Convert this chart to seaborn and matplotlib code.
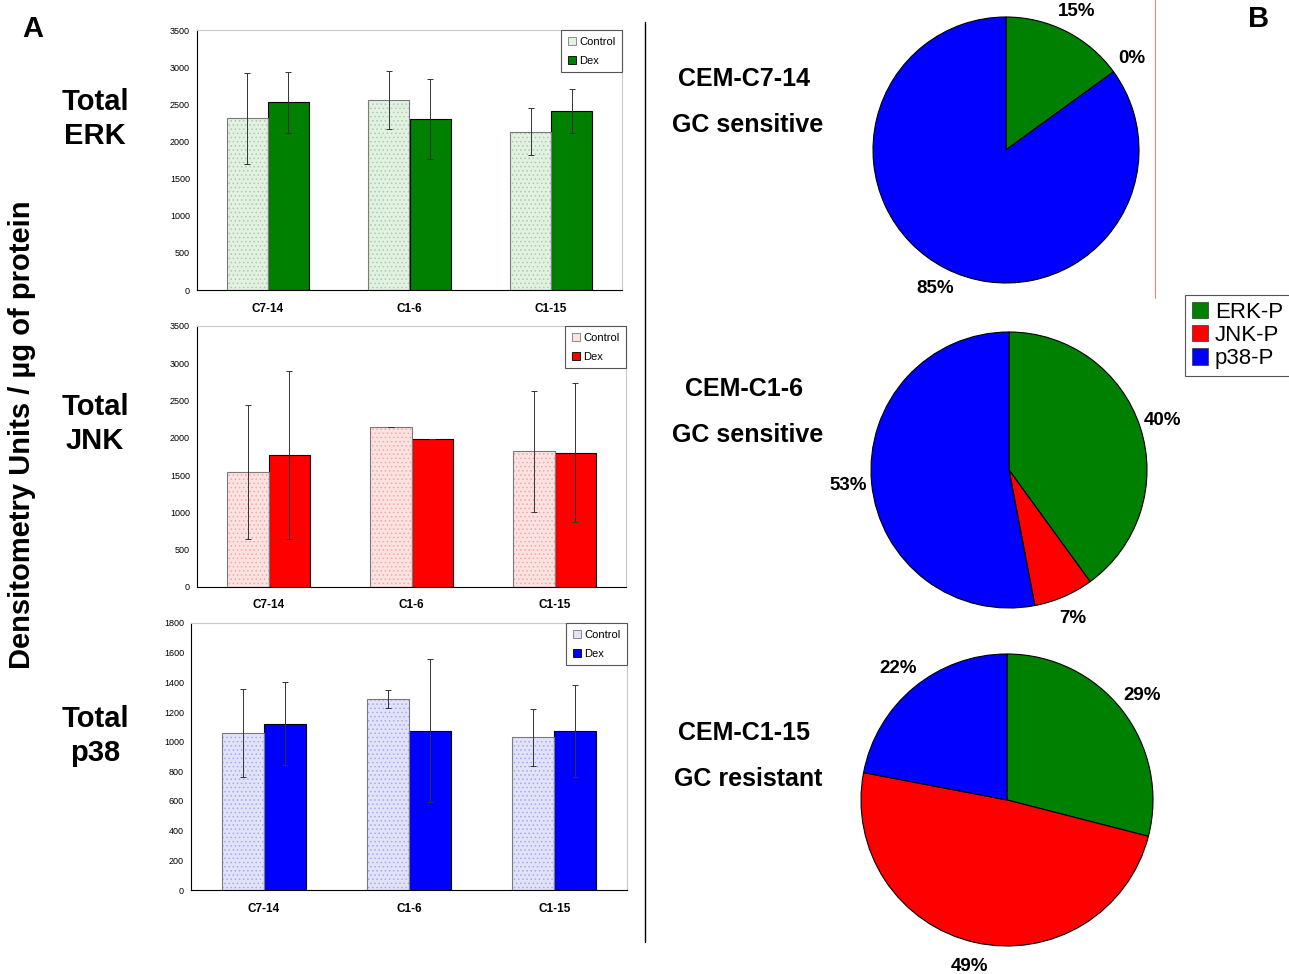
import matplotlib
matplotlib.use("Agg")
import numpy as np
import pandas as pd
import matplotlib.pyplot as plt
import seaborn as sns
from matplotlib.patches import Rectangle, Patch
from matplotlib.lines import Line2D

# bar chart data (A)
cells = ["C7-14", "C1-6", "C1-15"]
groups = ["Control", "Dex"]

erk_control = [2310, 2560, 2130]
erk_dex = [2530, 2300, 2410]
erk_control_err = [610, 390, 315]
erk_dex_err = [410, 540, 300]

jnk_control = [1540, 2150, 1820]
jnk_dex = [1770, 1990, 1800]
jnk_control_err = [900, 0, 810]
jnk_dex_err = [1125, 0, 935]

p38_control = [1060, 1285, 1030]
p38_dex = [1120, 1075, 1075]
p38_control_err = [297, 60, 193]
p38_dex_err = [280, 480, 310]

# pie chart data (B)
kinases = ["ERK-P", "JNK-P", "p38-P"]
kinase_colors = ["#008000", "#ff0000", "#0000ff"]
pct_c7_14 = [15, 0, 85]
pct_c1_6 = [40, 7, 53]
pct_c1_15 = [29, 49, 22]

W, H = 1289, 974

sns.set_style("white")
plt.rcParams["font.family"] = ["Liberation Sans", "DejaVu Sans"]
plt.rcParams["text.color"] = "black"
plt.rcParams["xtick.color"] = "black"
plt.rcParams["ytick.color"] = "black"
plt.rcParams["hatch.linewidth"] = 0.6

fig = plt.figure(figsize=(W / 100, H / 100), dpi=100)


def box(x0, y0, x1, y1):
    return [x0 / W, 1 - y1 / H, (x1 - x0) / W, (y1 - y0) / H]


def pt(x, y):
    return (x / W, 1 - y / H)


def bar_panel(rect, control, dex, cerr, derr, ymax, ystep, light, dots, dark):
    ax = fig.add_axes(rect)
    df = pd.DataFrame({
        "cell": cells * 2,
        "group": ["Control"] * 3 + ["Dex"] * 3,
        "value": control + dex,
    })
    sns.barplot(
        data=df, x="cell", y="value", hue="group",
        order=cells, hue_order=groups,
        palette={"Control": light, "Dex": dark},
        saturation=1, width=0.58, errorbar=None,
        edgecolor="black", linewidth=0.8, ax=ax
    )
    if ax.get_legend() is not None:
        ax.get_legend().remove()

    # dotted texture on control bars, outline on top
    for p in ax.containers[0].patches:
        p.set_hatch("....")
        p.set_edgecolor(dots)
        p.set_linewidth(0)
        ax.add_patch(Rectangle(p.get_xy(), p.get_width(), p.get_height(),
                               fill=False, edgecolor="#7a7a7a", linewidth=0.8, zorder=3))

    for cont, err in zip(ax.containers, [cerr, derr]):
        xs = [p.get_x() + p.get_width() / 2 for p in cont.patches]
        ys = [p.get_height() for p in cont.patches]
        ax.errorbar(xs, ys, yerr=err, fmt="none", ecolor="#333333",
                    elinewidth=0.7, capsize=2, capthick=0.7, zorder=4)

    ax.set_xlim(-0.5, 2.5)
    ax.set_ylim(0, ymax)
    ax.set_yticks(np.arange(0, ymax + 1, ystep))
    ax.set_xticks([-0.5, 0.5, 1.5, 2.5], minor=True)
    ax.tick_params(axis="x", which="major", length=0, pad=9, labelsize=8.5)
    ax.tick_params(axis="x", which="minor", length=4, width=0.8, color="black", direction="out")
    ax.tick_params(axis="y", length=3, width=0.8, color="black", direction="out", labelsize=6.5, pad=2)
    for lab in ax.get_xticklabels():
        lab.set_fontweight("bold")
    ax.set_xlabel("")
    ax.set_ylabel("")
    for s in ["top", "right"]:
        ax.spines[s].set_color("#c8c8c8")
        ax.spines[s].set_linewidth(0.8)
    for s in ["left", "bottom"]:
        ax.spines[s].set_color("black")
        ax.spines[s].set_linewidth(0.8)

    handles = [Patch(facecolor=light, edgecolor="#7a7a7a", linewidth=0.6),
               Patch(facecolor=dark, edgecolor="black", linewidth=0.6)]
    leg = ax.legend(handles, groups, loc="upper right", borderaxespad=0,
                    fontsize=8, handlelength=0.7, handleheight=0.7,
                    handletextpad=0.3, labelspacing=0.8, borderpad=0.6,
                    fancybox=False, framealpha=1, edgecolor="#555555")
    leg.get_frame().set_linewidth(0.8)
    return ax


bar_panel(box(197, 30, 622, 290), erk_control, erk_dex, erk_control_err, erk_dex_err,
          3500, 500, "#e2f1e2", "#a8cda8", "#008000")
bar_panel(box(197, 326, 626, 587), jnk_control, jnk_dex, jnk_control_err, jnk_dex_err,
          3500, 500, "#fde2e2", "#f0a8a8", "#ff0000")
bar_panel(box(191, 623, 627, 890), p38_control, p38_dex, p38_control_err, p38_dex_err,
          1800, 200, "#e2e2fb", "#a8a8ee", "#0000ff")


def pie_panel(cx, cy, r, pcts):
    ax = fig.add_axes(box(cx - r, cy - r, cx + r, cy + r))
    wedges, texts, autotexts = ax.pie(
        pcts, colors=kinase_colors, startangle=90, counterclock=False,
        autopct=lambda p: f"{p:.0f}%", pctdistance=1.17,
        wedgeprops=dict(edgecolor="black", linewidth=0.8)
    )
    for t in autotexts:
        t.set_fontsize(13.5)
        t.set_fontweight("bold")
        t.set_color("black")
    ax.set_xlim(-1, 1)
    ax.set_ylim(-1, 1)
    ax.set_aspect("equal")
    ax.axis("off")


pie_panel(1006, 150, 133, pct_c7_14)
pie_panel(1009, 470, 138, pct_c1_6)
pie_panel(1007, 800, 146, pct_c1_15)

# labels
big = dict(fontsize=21, fontweight="bold", ha="center", va="center", color="black")
fig.text(*pt(33, 29), "A", **big)
fig.text(*pt(1259, 19), "B", **big)
fig.text(*pt(95, 119), "Total\nERK", linespacing=1.3, **big)
fig.text(*pt(95, 424), "Total\nJNK", linespacing=1.3, **big)
fig.text(*pt(95, 736), "Total\np38", linespacing=1.3, **big)
fig.text(*pt(22, 435), "Densitometry Units / µg of protein", rotation=90, **big)

mid = dict(fontsize=18, fontweight="bold", ha="center", va="center", color="black")
fig.text(*pt(744, 79), "CEM-C7-14", **mid)
fig.text(*pt(748, 125), "GC sensitive", **mid)
fig.text(*pt(744, 389), "CEM-C1-6", **mid)
fig.text(*pt(748, 435), "GC sensitive", **mid)
fig.text(*pt(744, 733), "CEM-C1-15", **mid)
fig.text(*pt(748, 779), "GC resistant", **mid)

# divider lines
fig.add_artist(Line2D([645 / W, 645 / W], [1 - 22 / H, 1 - 942 / H], color="black", linewidth=1))
fig.add_artist(Line2D([1155 / W, 1155 / W], [1, 1 - 298 / H], color="#f08080", linewidth=0.8))

pie_handles = [Patch(facecolor=c, edgecolor="#333333", linewidth=0.5) for c in kinase_colors]
leg = fig.legend(pie_handles, kinases, loc="upper left", bbox_to_anchor=pt(1185, 295),
                 borderaxespad=0, fontsize=16, handlelength=0.75, handleheight=0.75,
                 handletextpad=0.3, labelspacing=0.1, borderpad=0.3,
                 fancybox=False, framealpha=1, edgecolor="#555555")
leg.get_frame().set_linewidth(0.8)

plt.savefig("out.png", dpi=100)
